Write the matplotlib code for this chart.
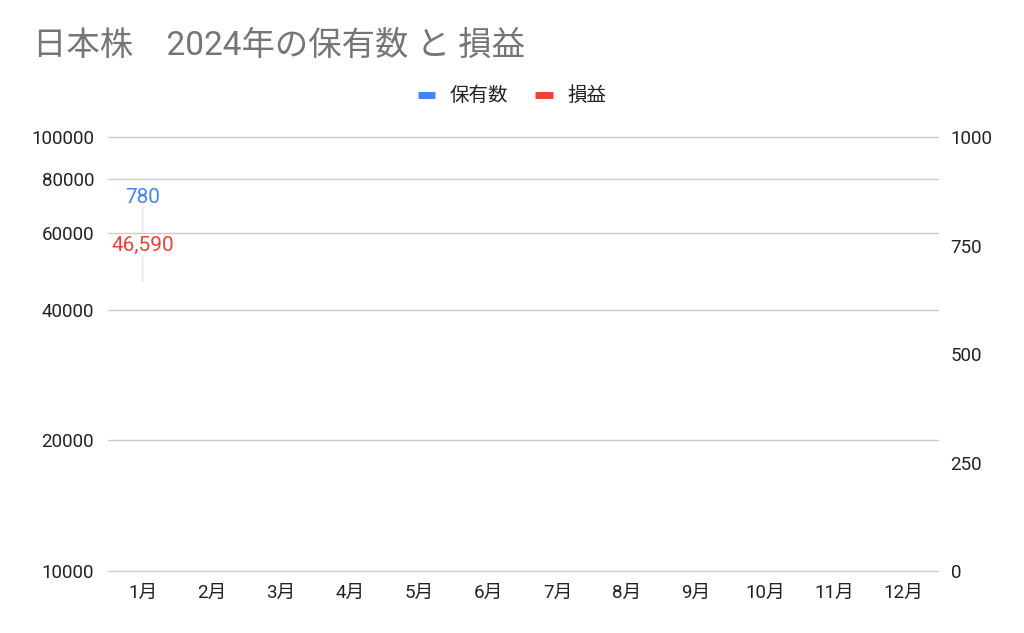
import numpy as np
import matplotlib
matplotlib.use("Agg")
import matplotlib.pyplot as plt
from matplotlib.lines import Line2D
from matplotlib.ticker import FixedLocator, FuncFormatter, NullLocator

plt.rcParams['font.family'] = ['Roboto', 'Noto Sans CJK JP', 'DejaVu Sans']

# データ
months = ['1月', '2月', '3月', '4月', '5月', '6月', '7月', '8月', '9月', '10月', '11月', '12月']
holdings = [780] + [np.nan] * 11          # 保有数 (右軸)
profit = [46590] + [np.nan] * 11          # 損益 (左軸, 対数)
left_ticks = [10000, 20000, 40000, 60000, 80000, 100000]
right_ticks = [0, 250, 500, 750, 1000]

blue = '#4285F4'
red = '#EA4335'
grid_c = '#cccccc'
text_c = '#222222'

fig = plt.figure(figsize=(10.24, 6.33), dpi=100)
ax = fig.add_axes([108 / 1024, 1 - 571 / 633, 830 / 1024, 434 / 633])
ax2 = ax.twinx()

x = np.arange(len(months))

# 左軸 (損益, 対数)
ax.set_yscale('log')
ax.set_ylim(10000, 100000)
ax.yaxis.set_major_locator(FixedLocator(left_ticks))
ax.yaxis.set_minor_locator(NullLocator())
ax.yaxis.set_major_formatter(FuncFormatter(lambda v, p: f'{int(v)}'))
ax.set_xlim(-0.5, len(months) - 0.5)
ax.set_xticks(x)
ax.set_xticklabels(months)
ax.grid(axis='y', color=grid_c, linewidth=1)
ax.set_axisbelow(True)
for gl in ax.get_ygridlines():
    gl.set_clip_on(False)

# 右軸 (保有数)
ax2.set_ylim(0, 1000)
ax2.set_yticks(right_ticks)

for a in (ax, ax2):
    for s in a.spines.values():
        s.set_visible(False)
    a.tick_params(length=0, labelsize=13.5, colors=text_c)
ax.tick_params(axis='y', pad=10)
ax.tick_params(axis='x', pad=9)
ax2.tick_params(axis='y', pad=9)

ax.plot(x, profit, color=red, linewidth=2)
ax2.plot(x, holdings, color=blue, linewidth=2)

# 1月の縦線 (ラベル部分は途切れる)
for y0, y1 in [(0, 17), (35, 53)]:
    ax.annotate('', xy=(0, profit[0]), xycoords='data',
                xytext=(0, y1), textcoords='offset points',
                arrowprops=dict(arrowstyle='-', color='#e6e6e6', lw=1.2,
                                shrinkA=0, shrinkB=y0))

# データラベル
ax.annotate(f'{profit[0]:,}', xy=(0, profit[0]), xytext=(0, 25.5), textcoords='offset points',
            ha='center', va='center', color=red, fontsize=15)
ax2.annotate(f'{holdings[0]:,}', xy=(0, holdings[0]), xytext=(0, 25.5), textcoords='offset points',
             ha='center', va='center', color=blue, fontsize=15)

# タイトル
fig.text(33 / 1024, 1 - 46 / 633, '日本株\u30002024年の保有数 と 損益', fontsize=24,
         color='#757575', ha='left', va='center')

# 凡例
handles = [Line2D([0], [0], color=blue, lw=5, solid_capstyle='butt'),
           Line2D([0], [0], color=red, lw=5, solid_capstyle='butt')]
fig.legend(handles, ['保有数', '損益'], loc='center', bbox_to_anchor=(512 / 1024, 1 - 96 / 633),
           ncol=2, frameon=False, fontsize=14, handlelength=0.9, handletextpad=0.75,
           columnspacing=1.4, labelcolor=text_c)

fig.savefig('out.png', dpi=100)
